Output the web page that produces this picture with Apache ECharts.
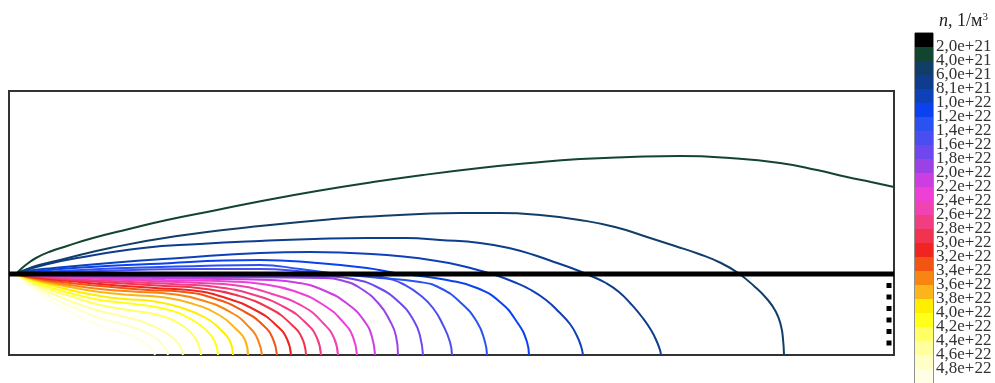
<!DOCTYPE html>
<html>
<head>
<meta charset="utf-8">
<script src="https://cdn.jsdelivr.net/npm/echarts@6/dist/echarts.min.js"></script>
<style>
  html, body { margin: 0; padding: 0; background: #fff; }
  #chart { width: 995px; height: 383px; }
</style>
</head>
<body>
<div id="chart"></div>
<script>
// Colour-bar tick labels (contour levels, n, 1/m^3)
const tickLabels = ['2,0e+21','4,0e+21','6,0e+21','8,1e+21','1,0e+22','1,2e+22','1,4e+22','1,6e+22','1,8e+22','2,0e+22','2,2e+22','2,4e+22','2,6e+22','2,8e+22','3,0e+22','3,2e+22','3,4e+22','3,6e+22','3,8e+22','4,0e+22','4,2e+22','4,4e+22','4,6e+22','4,8e+22'];

// Colour-bar cells (first = background above the lowest level)
const cellColors = ['#000000','#13442f','#113e68','#0f3d8e','#0e40b8','#0a42f0','#2a52f0','#4a4ef0','#6e48ee','#9a42e6','#cc3ee0','#ee40d6','#f042b0','#f03e80','#f03450','#f02420','#f25412','#f88412','#fbb41a','#ffee00','#ffff1a','#ffff66','#ffffa0','#ffffc8','#ffffe6'];

// Contour lines: [x, y] along the plate / across it (y = 0 on the thick wall)
const n_2_0e21 = [[7,0],[12,5],[18,10],[27,16],[40,22],[58,28],[84,36],[120,45],[158,54],[208,64],[258,74],[308,83],[358,91],[414,99],[471,106],[521,111],[571,115],[621,117],[671,118],[721,116],[771,111],[808,104],[838,97],[862,92],[885,87]];
const n_2_0e21_edge = [[880,-9],[880,-78]];
const n_4_0e21 = [[7,0],[13,3],[30,9],[51,14],[101,26],[168,38],[251,48],[324,55],[371,58],[411,60],[451,61],[491,61],[531,59],[571,54],[606,47],[638,37],[666,28],[690,20],[712,11],[729,1],[745,-12],[758,-25],[767,-38],[772,-52],[774,-65],[775,-81]];
const n_6_0e21 = [[7,0],[14,3],[35,9],[68,16],[134,26],[191,30],[251,33],[305,35],[358,36],[398,36],[431,34],[471,31],[504,25],[525,19],[545,12],[565,5],[582,-2],[597,-9],[610,-18],[622,-30],[633,-43],[642,-56],[648,-68],[651,-76],[652,-81]];
const n_8_1e21 = [[7,0],[18,3],[45,6],[101,11],[171,16],[251,21],[301,22],[341,21],[378,19],[408,16],[440,11],[465,5],[486,-1],[505,-8],[522,-16],[537,-26],[550,-38],[561,-50],[568,-62],[572,-72],[574,-81]];
const n_1_0e22 = [[7,0],[51,5],[141,10],[251,14],[308,11],[358,6],[386,1],[411,-2],[438,-6],[468,-14],[491,-28],[508,-48],[518,-68],[520,-81]];
const n_1_2e22 = [[7,0],[91,5],[191,8],[251,9],[291,5],[321,1],[361,-3],[411,-8],[431,-14],[451,-28],[468,-48],[476,-68],[478,-81]];
const n_1_4e22 = [[7,0],[91,3],[191,5],[251,5],[301,2],[341,0],[366,-2],[381,-5],[394,-10],[411,-21],[424,-34],[434,-51],[441,-68],[443,-81]];
const n_1_6e22 = [[7,0],[91,-1],[191,-1.5],[321,-2.5],[344,-5],[368,-13],[391,-29],[405,-47],[411,-62],[414,-81]];
const n_1_8e22 = [[7,0],[91,-2],[191,-3],[314,-4],[333,-6.5],[351,-14],[370,-30],[381,-47],[387,-62],[389,-81]];
const n_2_0e22 = [[7,0],[31,-1],[61,-2],[91,-3],[176,-4.5],[261,-6],[287,-8.4],[314,-16],[340,-31],[356,-48],[363,-63],[366,-81]];
const n_2_2e22 = [[7,0],[31,-1.5],[61,-3],[91,-4],[156,-6],[221,-7.5],[253,-10],[285,-17],[316,-32],[335,-49],[344,-63],[348,-81]];
const n_2_4e22 = [[7,0],[31,-2],[61,-3.5],[91,-5],[141,-7],[191,-9],[226,-11.3],[260,-19],[295,-33],[315,-50],[325,-64],[329,-81]];
const n_2_6e22 = [[7,0],[31,-2.5],[61,-5],[91,-6.5],[131,-8.5],[171,-10.5],[206,-12.8],[242,-20],[277,-34],[298,-50],[308,-64],[312,-81]];
const n_2_8e22 = [[7,0],[31,-3],[61,-6],[91,-8],[123,-10],[156,-12],[191,-14.2],[227,-21],[262,-35],[283,-51],[293,-64],[297,-81]];
const n_3_0e22 = [[7,0],[31,-4],[61,-7],[91,-10],[146,-14],[180,-16],[214,-23],[248,-37],[268,-52],[278,-65],[282,-81]];
const n_3_2e22 = [[7,0],[31,-5],[61,-9],[91,-12],[139,-16],[171,-17.6],[204,-24],[236,-38],[255,-52],[264,-65],[268,-81]];
const n_3_4e22 = [[7,0],[31,-6],[61,-11],[91,-15],[131,-18],[162,-20],[192,-26],[223,-39],[241,-54],[249,-66],[253,-81]];
const n_3_6e22 = [[7,0],[31,-7],[61,-13],[91,-18],[123,-21],[152,-23],[181,-29],[210,-41],[227,-55],[236,-66],[239,-81]];
const n_3_8e22 = [[7,0],[31,-8],[61,-16],[91,-22],[116,-25],[143,-27],[170,-33],[197,-44],[213,-57],[221,-67],[224,-81]];
const n_4_0e22 = [[7,0],[31,-10],[61,-19],[91,-26],[125,-30],[160,-36],[185,-47],[199,-58],[206,-68],[209,-81]];
const n_4_2e22 = [[7,0],[31,-12],[61,-22],[91,-31],[120,-36],[149,-41],[171,-50],[183,-60],[189,-69],[192,-81]];
const n_4_4e22 = [[7,0],[31,-14],[61,-27],[91,-37],[116,-43],[137,-49],[154,-57],[165,-65],[171,-72],[174,-81]];
const n_4_6e22 = [[7,0],[31,-17],[61,-32],[91,-44],[113,-50],[131,-56],[145,-63],[153,-70],[157,-75],[159,-81]];
const n_4_8e22 = [[7,0],[31,-20],[61,-38],[91,-52],[112,-58],[127,-64],[137,-70],[143,-75],[146,-81]];

// Thick wall line
const wall = [[0,0],[885,0]];

const contours = [n_2_0e21,n_4_0e21,n_6_0e21,n_8_1e21,n_1_0e22,n_1_2e22,n_1_4e22,n_1_6e22,n_1_8e22,n_2_0e22,n_2_2e22,n_2_4e22,n_2_6e22,n_2_8e22,n_3_0e22,n_3_2e22,n_3_4e22,n_3_6e22,n_3_8e22,n_4_0e22,n_4_2e22,n_4_4e22,n_4_6e22,n_4_8e22];

const chart = echarts.init(document.getElementById('chart'), null, {renderer: 'canvas'});

const series = [];
for (let i = contours.length - 1; i >= 0; i--) {
  series.push({
    type: 'line', xAxisIndex: 0, yAxisIndex: 0,
    data: contours[i], showSymbol: false, smooth: 0.5, silent: true,
    lineStyle: { color: cellColors[i + 1], width: 2 }, z: 2
  });
}
series.push({
  type: 'line', xAxisIndex: 0, yAxisIndex: 0, data: n_2_0e21_edge, showSymbol: false, silent: true,
  lineStyle: { color: '#000', width: 5, type: [5, 6.5], cap: 'butt' }, z: 3
});
series.push({
  type: 'line', xAxisIndex: 0, yAxisIndex: 0, data: wall, showSymbol: false, silent: true,
  lineStyle: { color: '#000', width: 5 }, z: 4
});
series.push({
  type: 'custom', xAxisIndex: 1, yAxisIndex: 1, silent: true,
  data: cellColors.map((c, i) => [0, i]),
  renderItem: function (params, api) {
    const i = api.value(1);
    const p0 = api.coord([0, i]);
    const p1 = api.coord([1, i + 1]);
    return {
      type: 'rect',
      shape: { x: p0[0], y: Math.min(p0[1], p1[1]), width: p1[0] - p0[0], height: Math.abs(p1[1] - p0[1]) },
      style: { fill: cellColors[i] }
    };
  }
});

chart.setOption({
  animation: false,
  backgroundColor: '#fff',
  title: {
    text: '{i|n}, 1/м{s|3}',
    left: 934, top: 7,
    textStyle: {
      fontFamily: 'Liberation Serif', fontSize: 18, fontWeight: 'normal', color: '#222',
      rich: {
        i: { fontFamily: 'Liberation Serif', fontSize: 18, fontStyle: 'italic', color: '#222' },
        s: { fontFamily: 'Liberation Serif', fontSize: 11, verticalAlign: 'top', color: '#222' }
      }
    }
  },
  grid: [
    { left: 9, top: 91, width: 885, height: 264, show: true, borderColor: '#333', borderWidth: 2, backgroundColor: '#fff' },
    { left: 915, top: 33, width: 18, height: 352.5, show: true, borderColor: '#222', borderWidth: 1 }
  ],
  xAxis: [
    { gridIndex: 0, type: 'value', min: 0, max: 885, show: false },
    { gridIndex: 1, type: 'value', min: 0, max: 1, show: false }
  ],
  yAxis: [
    { gridIndex: 0, type: 'value', min: -81, max: 183, show: false },
    {
      gridIndex: 1, type: 'value', min: 0, max: 25, interval: 1, inverse: true, position: 'right',
      axisLine: { show: false }, axisTick: { show: false }, splitLine: { show: false },
      axisLabel: {
        show: true, margin: 3, fontFamily: 'Liberation Serif', fontSize: 17, color: '#333',
        padding: [7, 0, 0, 0],
        formatter: function (v) { return (v >= 1 && v <= 24) ? tickLabels[v - 1] : ''; }
      }
    }
  ],
  series: series
});
</script>
</body>
</html>
